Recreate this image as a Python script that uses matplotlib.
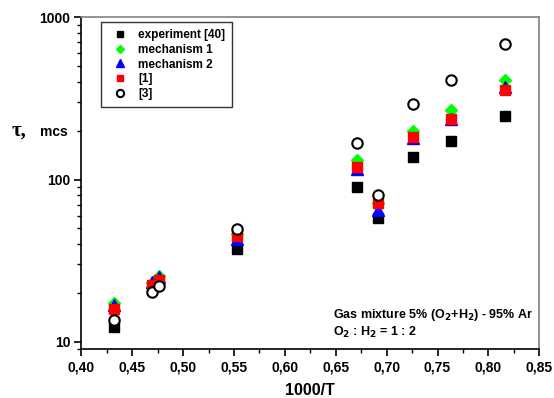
import matplotlib
matplotlib.use("Agg")
import matplotlib.pyplot as plt
from matplotlib.ticker import FixedLocator, LogLocator, NullFormatter, FuncFormatter

plt.rcParams['font.family'] = ['Liberation Sans', 'DejaVu Sans']
plt.rcParams['font.weight'] = 'bold'

# data
x_exp = [0.4321, 0.5527, 0.6712, 0.6912, 0.7262, 0.7632, 0.8163]
y_exp = [12.4, 37.3, 90.5, 58.0, 138.0, 172.0, 247.0]

x_all = [0.4321, 0.4692, 0.4763, 0.5527, 0.6712, 0.6912, 0.7262, 0.7632, 0.8163]
y_mech1 = [17.4, 23.2, 25.6, 46.5, 132.0, 72.0, 199.0, 268.0, 408.0]
y_mech2 = [16.9, 23.5, 25.2, 43.0, 116.0, 65.0, 180.0, 237.0, 373.0]
y_ref1 = [15.9, 22.4, 24.2, 45.0, 120.0, 72.0, 182.0, 237.0, 356.0]
y_ref3 = [13.6, 20.4, 22.1, 49.6, 167.0, 80.7, 291.0, 408.0, 682.0]

x_ticks = [0.40, 0.45, 0.50, 0.55, 0.60, 0.65, 0.70, 0.75, 0.80, 0.85]
labels = ['experiment [40]', 'mechanism 1', 'mechanism 2', '[1]', '[3]']

fig = plt.figure(figsize=(5.54, 3.98), dpi=100)
ax = fig.add_axes([0.1468, 0.1224, 0.8267, 0.8341])

ax.plot(x_exp, y_exp, ls='none', marker='s', ms=7, mfc='black', mec='black', label=labels[0])
ax.plot(x_all, y_mech1, ls='none', marker='D', ms=6.5, mfc='#00ff00', mec='#00ff00', label=labels[1])
ax.plot(x_all, y_mech2, ls='none', marker='^', ms=8, mfc='#0000ff', mec='#0000ff', label=labels[2])
ax.plot(x_all, y_ref1, ls='none', marker='s', ms=6.5, mfc='#ff0000', mec='#ff0000', label=labels[3])
ax.plot(x_all, y_ref3, ls='none', marker='o', ms=7.5, mfc='white', mec='black', mew=1.5, label=labels[4])

ax.set_yscale('log')
ax.set_xlim(0.40, 0.85)
ax.set_ylim(9.0, 1000)

ax.xaxis.set_major_locator(FixedLocator(x_ticks))
ax.xaxis.set_minor_locator(FixedLocator([t + 0.025 for t in x_ticks[:-1]]))
ax.xaxis.set_major_formatter(FuncFormatter(lambda v, p: ('%.2f' % v).replace('.', ',')))
ax.yaxis.set_major_locator(FixedLocator([10, 100, 1000]))
ax.yaxis.set_major_formatter(FuncFormatter(lambda v, p: '%d' % v))
ax.yaxis.set_minor_locator(LogLocator(base=10, subs=range(2, 10)))
ax.yaxis.set_minor_formatter(NullFormatter())

ax.tick_params(which='major', direction='out', length=5, width=1.2, labelsize=10, pad=3)
ax.tick_params(which='minor', direction='out', length=3, width=1.0)
for lab in ax.get_xticklabels() + ax.get_yticklabels():
    lab.set_fontweight('bold')

for s in ['left', 'bottom']:
    ax.spines[s].set_color('black')
    ax.spines[s].set_linewidth(1.2)
for s in ['top', 'right']:
    ax.spines[s].set_color('#808080')
    ax.spines[s].set_linewidth(1.2)

ax.set_xlabel('1000/T', fontsize=11.5, fontweight='bold', labelpad=6)

fig.text(0.020, 0.672, 'τ,', fontsize=15, fontweight='bold', family=['Liberation Serif', 'DejaVu Serif'], va='center', ha='left')
fig.text(0.072, 0.669, 'mcs', fontsize=10, fontweight='bold', va='center', ha='left')

leg = ax.legend(loc='upper left', bbox_to_anchor=(0.043, 0.985), borderaxespad=0.0, frameon=True, fancybox=False,
                edgecolor='black', fontsize=8.5, handletextpad=0.55, labelspacing=0.22,
                borderpad=0.6, handlelength=2.0, markerscale=0.7)
leg.get_frame().set_linewidth(1.0)
for t in leg.get_texts():
    t.set_fontweight('bold')

ax.text(0.550, 0.103, 'Gas mixture 5% (O$_\\mathbf{2}$+H$_\\mathbf{2}$) - 95% Ar', transform=ax.transAxes,
        fontsize=9, fontweight='bold', ha='left', va='center')
ax.text(0.550, 0.050, 'O$_\\mathbf{2}$ : H$_\\mathbf{2}$ = 1 : 2', transform=ax.transAxes,
        fontsize=9, fontweight='bold', ha='left', va='center')

fig.savefig('out.png', dpi=100)
